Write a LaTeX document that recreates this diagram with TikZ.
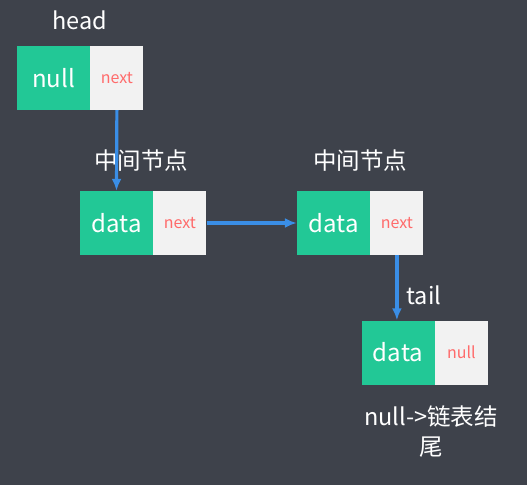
\documentclass[tikz,border=0pt]{standalone}
\usepackage{fontspec}
\setmainfont{Noto Sans CJK SC}
\usetikzlibrary{positioning,arrows.meta}
\definecolor{bg}{HTML}{3E424B}
\definecolor{nodegreen}{HTML}{22C896}
\definecolor{nodegray}{HTML}{F2F2F2}
\definecolor{nextred}{HTML}{FF6B6B}
\definecolor{arrowblue}{HTML}{3A8EE6}
\begin{document}
\begin{tikzpicture}[
		x=1pt, y=-1pt,
		datafld/.style={fill=nodegreen, text=white, minimum width=73pt,
			minimum height=64pt, inner sep=0pt, font=\fontsize{24}{28}\selectfont},
		nextfld/.style={fill=nodegray, text=nextred, minimum width=53pt,
			minimum height=64pt, inner sep=0pt, font=\fontsize{16}{19}\selectfont},
		lbl/.style={text=white, font=\fontsize{23.5}{30}\selectfont, align=center},
		arr/.style={-{Latex[length=12pt,width=10pt]}, line width=3.2pt, draw=arrowblue},
	]
		\fill[bg] (0,0) rectangle (527,485);

		% Knoten der Liste
		\node[datafld] (n1d) at (53.5,78) {null};
		\node[nextfld, right=0pt of n1d] (n1n) {next};
		\node[datafld] (n2d) at (116.5,223) {data};
		\node[nextfld, right=0pt of n2d] (n2n) {next};
		\node[datafld] (n3d) at (333.5,223) {data};
		\node[nextfld, right=0pt of n3d] (n3n) {next};
		\node[datafld] (n4d) at (398,352.5) {data};
		\node[nextfld, right=0pt of n4d] (n4n) {null};

		% Beschriftungen
		\node[lbl] (headlbl) at (80,20) {head};
		\node[lbl] (mid1) at (141,161) {中间节点};
		\node[lbl] (mid2) at (360,161) {中间节点};
		\node[lbl] (taillbl) at (424,295) {tail};
		\node[lbl] (endlbl) at (431,432) {null->链表结\\尾};

		% Verbindungen
		\draw[arr] (n1n.south) -- (n2d.north);
		\draw[arr] (n2n.east) -- (n3d.west);
		\draw[arr] (n3n.south) -- (n3n.south |- n4d.north);
	\end{tikzpicture}
\end{document}
